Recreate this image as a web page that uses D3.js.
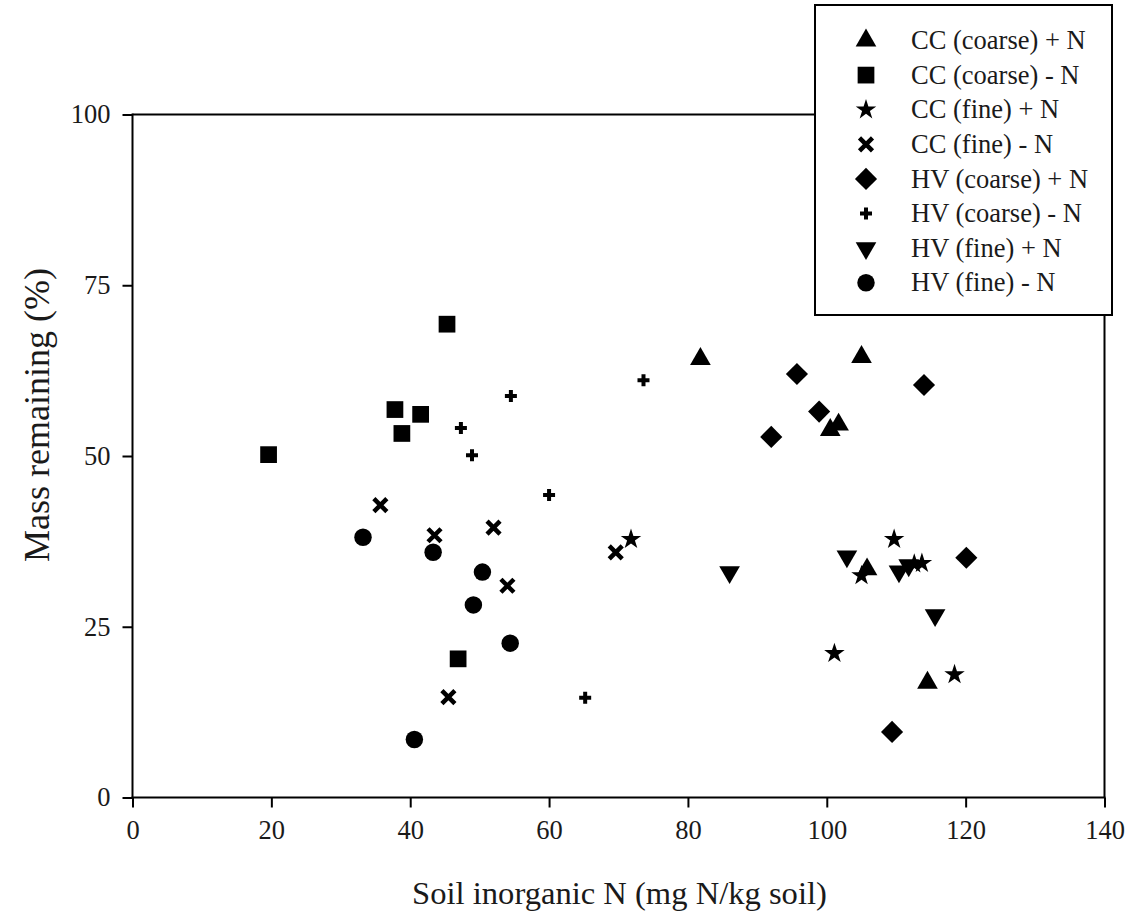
<!DOCTYPE html>
<html>
<head>
<meta charset="utf-8">
<script src="https://cdn.jsdelivr.net/npm/d3@7"></script>
<style>
  html, body { margin: 0; padding: 0; background: #fff; }
  svg text { font-family: "Liberation Serif", "Times New Roman", serif; fill: #1a1a1a; }
</style>
</head>
<body>
<svg id="chart" width="1131" height="915"></svg>
<script>
// Series labels (legend order)
const seriesNames = [
  "CC (coarse) + N", "CC (coarse) - N", "CC (fine) + N", "CC (fine) - N",
  "HV (coarse) + N", "HV (coarse) - N", "HV (fine) + N", "HV (fine) - N"
];

// [soil inorganic N, mass remaining %] per treatment
const ccCoarsePlusN = [[81.8, 64.2], [105.0, 64.5], [100.5, 53.8], [101.7, 54.6], [105.8, 33.4], [114.5, 16.8]];
const ccCoarseMinusN = [[45.3, 69.3], [19.6, 50.2], [37.8, 56.8], [41.5, 56.1], [38.8, 53.3], [46.9, 20.3]];
const ccFinePlusN = [[71.8, 37.8], [101.1, 21.1], [109.7, 37.8], [105.0, 32.5], [112.6, 34.2], [113.7, 34.3], [118.4, 18.0]];
const ccFineMinusN = [[35.7, 42.8], [43.5, 38.4], [52.0, 39.5], [54.0, 31.0], [45.5, 14.7], [69.6, 35.9]];
const hvCoarsePlusN = [[95.7, 62.0], [98.9, 56.5], [92.0, 52.8], [114.0, 60.4], [120.1, 35.1], [109.4, 9.6]];
const hvCoarseMinusN = [[54.5, 58.8], [47.3, 54.1], [48.9, 50.1], [73.6, 61.1], [60.0, 44.3], [65.2, 14.6]];
const hvFinePlusN = [[86.0, 33.0], [102.9, 35.3], [110.4, 33.1], [111.8, 34.0], [115.6, 26.7]];
const hvFineMinusN = [[33.2, 38.1], [43.3, 35.9], [50.4, 33.0], [49.1, 28.2], [54.4, 22.6], [40.6, 8.5]];

const seriesData = [ccCoarsePlusN, ccCoarseMinusN, ccFinePlusN, ccFineMinusN,
                    hvCoarsePlusN, hvCoarseMinusN, hvFinePlusN, hvFineMinusN];

const xTicks = [0, 20, 40, 60, 80, 100, 120, 140];
const yTicks = [0, 25, 50, 75, 100];

const svg = d3.select("#chart");
const plotLeft = 132.5, plotRight = 1104.5, plotTop = 114.5, plotBottom = 797.5;

const x = d3.scaleLinear().domain([0, 140]).range([plotLeft, plotRight]);
const y = d3.scaleLinear().domain([0, 100]).range([plotBottom, plotTop]);

// Marker shapes
const crossX = "M-6.5,-6.5L6.5,6.5M-6.5,6.5L6.5,-6.5";
const markers = [
  { d: d3.symbol(d3.symbolTriangle, 185)(), rot: 0, stroke: false },
  { d: d3.symbol(d3.symbolSquare, 280)(), rot: 0, stroke: false },
  { d: d3.symbol(d3.symbolStar, 130)(), rot: 0, stroke: false },
  { d: crossX, rot: 0, stroke: true },
  { d: d3.symbol(d3.symbolSquare, 245)(), rot: 45, stroke: false },
  { d: d3.symbol(d3.symbolCross, 80)(), rot: 0, stroke: false },
  { d: d3.symbol(d3.symbolTriangle, 185)(), rot: 180, stroke: false },
  { d: d3.symbol(d3.symbolCircle, 240)(), rot: 0, stroke: false }
];

function drawMarker(g, m, cx, cy) {
  const p = g.append("path")
    .attr("d", m.d)
    .attr("transform", `translate(${cx},${cy}) rotate(${m.rot})`);
  if (m.stroke) {
    p.attr("fill", "none").attr("stroke", "#000").attr("stroke-width", 4.5);
  } else {
    p.attr("fill", "#000");
  }
}

// Frame: top and right edges
svg.append("line").attr("x1", plotLeft).attr("x2", plotRight).attr("y1", plotTop).attr("y2", plotTop)
  .attr("stroke", "#000").attr("stroke-width", 2);
svg.append("line").attr("x1", plotRight).attr("x2", plotRight).attr("y1", plotTop).attr("y2", plotBottom)
  .attr("stroke", "#000").attr("stroke-width", 2);

// Axes
const xAxis = svg.append("g").attr("transform", `translate(0,${plotBottom})`)
  .call(d3.axisBottom(x).tickValues(xTicks).tickSize(10).tickPadding(13).tickSizeOuter(0));
const yAxis = svg.append("g").attr("transform", `translate(${plotLeft},0)`)
  .call(d3.axisLeft(y).tickValues(yTicks).tickSize(10).tickPadding(12).tickSizeOuter(0));

[xAxis, yAxis].forEach(a => {
  a.select(".domain").attr("stroke", "#000").attr("stroke-width", 2);
  a.selectAll(".tick line").attr("stroke", "#000").attr("stroke-width", 2);
  a.selectAll(".tick text").attr("font-size", 26.5)
    .attr("font-family", "'Liberation Serif', 'Times New Roman', serif").attr("fill", "#1a1a1a");
});
xAxis.select(".domain").attr("d", `M${plotLeft - 1},0H${plotRight + 1}`);
yAxis.select(".domain").attr("d", `M0,${plotBottom + 1}V${plotTop - 1}`);

// Axis titles
svg.append("text").attr("x", (plotLeft + plotRight) / 2 + 1).attr("y", 904)
  .attr("text-anchor", "middle").attr("font-size", 32.6)
  .text("Soil inorganic N (mg N/kg soil)");
svg.append("text")
  .attr("transform", `translate(49,415) rotate(-90)`)
  .attr("text-anchor", "middle").attr("font-size", 36)
  .text("Mass remaining (%)");

// Points
const pts = svg.append("g");
seriesData.forEach((data, i) => {
  data.forEach(([vx, vy]) => drawMarker(pts, markers[i], x(vx), y(vy)));
});

// Legend
const lg = svg.append("g");
lg.append("rect").attr("x", 815).attr("y", 5).attr("width", 297).attr("height", 310)
  .attr("fill", "#fff").attr("stroke", "#000").attr("stroke-width", 2);
seriesNames.forEach((name, i) => {
  const ry = 40.5 + i * 34.6;
  drawMarker(lg, markers[i], 866, ry);
  lg.append("text").attr("x", 911).attr("y", ry).attr("dy", "0.33em")
    .attr("font-size", 26.5).text(name);
});
</script>
</body>
</html>
